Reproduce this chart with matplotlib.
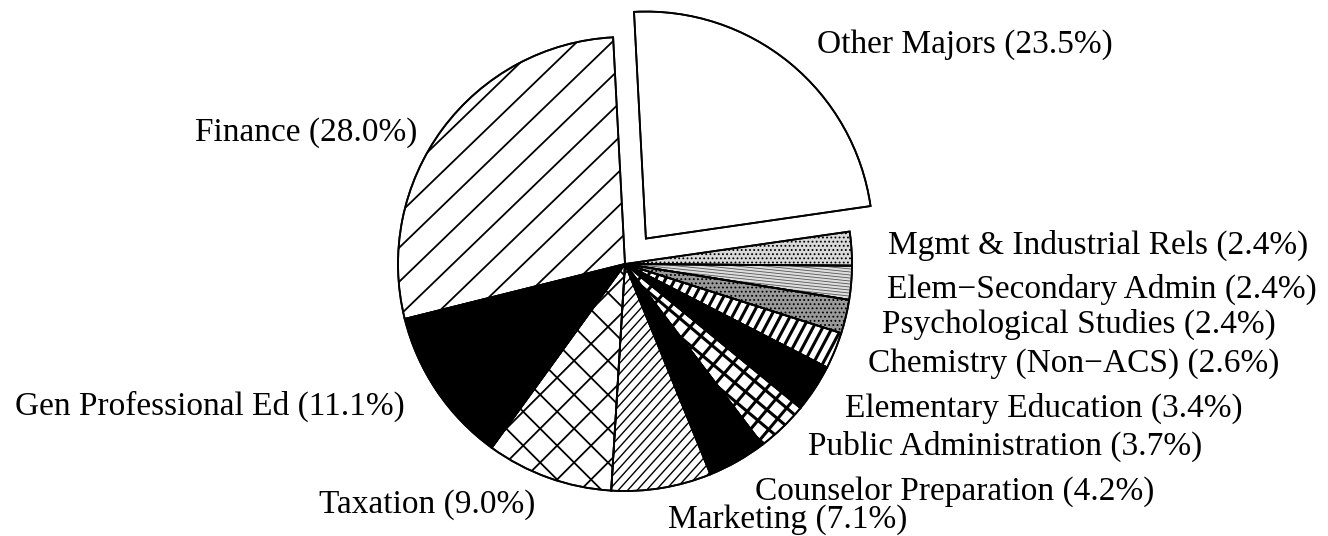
import numpy as np
import matplotlib
matplotlib.use("Agg")
import matplotlib.pyplot as plt
from matplotlib.collections import LineCollection
from matplotlib.patches import Wedge

# Majors, listed clockwise starting at twelve o'clock
majors = [
    "Other Majors", "Mgmt & Industrial Rels", "Elem\u2212Secondary Admin",
    "Psychological Studies", "Chemistry (Non\u2212ACS)", "Elementary Education",
    "Public Administration", "Counselor Preparation", "Marketing",
    "Taxation", "Gen Professional Ed", "Finance",
]
shares = [23.5, 2.4, 2.4, 2.4, 2.6, 3.4, 3.7, 4.2, 7.1, 9.0, 11.1, 28.0]

plt.rcParams["hatch.linewidth"] = 0.8

W, H = 1328, 536
fig = plt.figure(figsize=(W / 100, H / 100), dpi=100)
ax = fig.add_axes([0, 0, 1, 1])

R = 227
explode = [0.145 * R] + [0] * (len(shares) - 1)
wedges, _ = ax.pie(
    shares, startangle=93, counterclock=False, explode=explode,
    center=(625, H - 264), radius=R, frame=True,
    wedgeprops=dict(edgecolor="black", linewidth=1.3, facecolor="white"),
)


def hatch(wedge, angle, spacing, lw, color="black"):
    """Fill a wedge with parallel lines clipped to its outline."""
    cx, cy = wedge.center
    r = wedge.r
    t = np.radians(angle)
    d = np.array([np.cos(t), np.sin(t)])
    n = np.array([-np.sin(t), np.cos(t)])
    segs = []
    for o in np.arange(-1.2 * r, 1.2 * r, spacing):
        p = np.array([cx, cy]) + o * n
        segs.append([p - 1.3 * r * d, p + 1.3 * r * d])
    lc = LineCollection(segs, colors=color, linewidths=lw, zorder=3)
    lc.set_clip_path(wedge)
    ax.add_collection(lc)


# fill styles per slice
styles = {
    "Other Majors": dict(face="white"),
    "Mgmt & Industrial Rels": dict(face="#d9d9d9", h="...."),
    "Elem\u2212Secondary Admin": dict(face="#dedede", lines=[(-6, 3.0, 0.6, "#555555")]),
    "Psychological Studies": dict(face="#9a9a9a", h="...."),
    "Chemistry (Non\u2212ACS)": dict(face="white", lines=[(62, 8.5, 2.2)]),
    "Elementary Education": dict(face="black"),
    "Public Administration": dict(face="white", lines=[(-40, 14, 2.2), (50, 14, 2.2)]),
    "Counselor Preparation": dict(face="black"),
    "Marketing": dict(face="white", lines=[(48, 7, 1.0)]),
    "Taxation": dict(face="white", lines=[(45, 24, 1.3), (-45, 24, 1.3)]),
    "Gen Professional Ed": dict(face="black"),
    "Finance": dict(face="white", lines=[(44, 24.5, 1.3)]),
}

for w, name in zip(wedges, majors):
    st = styles[name]
    w.set_facecolor(st["face"])
    if "h" in st:
        w.set_hatch(st["h"])
    for spec in st.get("lines", []):
        hatch(w, *spec)
    ax.add_patch(Wedge(w.center, w.r, w.theta1, w.theta2, fill=False,
                       edgecolor="black", linewidth=1.3, zorder=4))

# label placement: (x, baseline y, horizontal alignment)
label_pos = {
    "Other Majors": (817, 53, "left"),
    "Finance": (417, 141, "right"),
    "Mgmt & Industrial Rels": (888, 254, "left"),
    "Elem\u2212Secondary Admin": (887, 298, "left"),
    "Psychological Studies": (882, 333, "left"),
    "Chemistry (Non\u2212ACS)": (868, 372, "left"),
    "Elementary Education": (845, 417, "left"),
    "Public Administration": (808, 455, "left"),
    "Counselor Preparation": (755, 500, "left"),
    "Marketing": (668, 528, "left"),
    "Taxation": (535, 513, "right"),
    "Gen Professional Ed": (405, 415, "right"),
}

for name, val in zip(majors, shares):
    x, y, ha = label_pos[name]
    ax.text(x, H - y, f"{name} ({val:.1f}%)", ha=ha, va="baseline",
            fontsize=24, family="Liberation Serif", color="black")

ax.set_xlim(0, W)
ax.set_ylim(0, H)
ax.set_aspect("auto")
ax.axis("off")
fig.savefig("out.png", dpi=100, facecolor="white")
